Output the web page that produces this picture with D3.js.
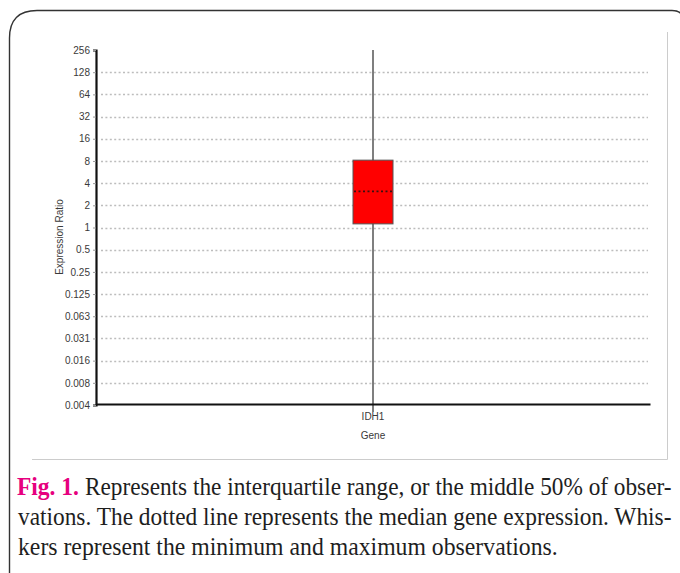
<!DOCTYPE html>
<html>
<head>
<meta charset="utf-8">
<script src="https://cdn.jsdelivr.net/npm/d3@7"></script>
<style>
  body { margin: 0; background: #fff; }
  svg { display: block; }
</style>
</head>
<body>
<script>
// chart data
var genes = ["IDH1"];
var tickExps = [-8, -7, -6, -5, -4, -3, -2, -1, 0, 1, 2, 3, 4, 5, 6, 7, 8];
var tickLabels = ["0.004", "0.008", "0.016", "0.031", "0.063", "0.125", "0.25", "0.5",
                  "1", "2", "4", "8", "16", "32", "64", "128", "256"];
var boxMin = [0.0039];
var boxQ1 = [1.12];
var boxMedian = [3.1];
var boxQ3 = [8.2];
var boxMax = [256];

var captionLines = [
  "Represents the interquartile range, or the middle 50% of obser-",
  "vations. The dotted line represents the median gene expression. Whis-",
  "kers represent the minimum and maximum observations."
];

var w = 680, h = 573;

var svg = d3.select("body").append("svg")
    .attr("width", w)
    .attr("height", h);

// outer rounded frame of the figure box
svg.append("path")
    .attr("d", "M9.5,600 L9.5,38 Q9.5,10.5 37,10.5 L672,10.5 Q679,10.5 681,14")
    .attr("fill", "none")
    .attr("stroke", "#333")
    .attr("stroke-width", 1.4);

// light frame around the chart image
svg.append("path")
    .attr("d", "M32,459.5 L667.5,459.5 L667.5,32")
    .attr("fill", "none")
    .attr("stroke", "#ccc")
    .attr("stroke-width", 1);

// scales
var y = d3.scaleLog().base(2)
    .domain([Math.pow(2, -8), Math.pow(2, 8)])
    .range([405, 50]);

var x = d3.scaleBand()
    .domain(genes)
    .range([96, 650]);

var tickVals = tickExps.map(function(e){ return Math.pow(2, e); });

// dotted gridlines
svg.append("g").attr("class", "grid")
    .selectAll("line")
    .data(tickVals.slice(1, tickVals.length - 1))
    .enter()
    .append("line")
    .attr("x1", 101)
    .attr("x2", 648)
    .attr("y1", function(d){ return Math.round(y(d)) + 0.5; })
    .attr("y2", function(d){ return Math.round(y(d)) + 0.5; })
    .attr("stroke", "#bdbdbd")
    .attr("stroke-width", 1.6)
    .attr("stroke-dasharray", "2,2.4");

// whiskers
svg.selectAll(".whisker")
    .data(genes)
    .enter()
    .append("line")
    .attr("class", "whisker")
    .attr("x1", function(d){ return x(d) + x.bandwidth() / 2; })
    .attr("x2", function(d){ return x(d) + x.bandwidth() / 2; })
    .attr("y1", function(d, i){ return y(boxMax[i]); })
    .attr("y2", function(d, i){ return y(boxMin[i]) + 7; })
    .attr("stroke", "#555")
    .attr("stroke-width", 1.5);

// boxes
var boxW = 40;
svg.selectAll(".box")
    .data(genes)
    .enter()
    .append("rect")
    .attr("class", "box")
    .attr("x", function(d){ return x(d) + x.bandwidth() / 2 - boxW / 2; })
    .attr("y", function(d, i){ return y(boxQ3[i]); })
    .attr("width", boxW)
    .attr("height", function(d, i){ return y(boxQ1[i]) - y(boxQ3[i]); })
    .attr("fill", "#ff0000")
    .attr("stroke", "#555")
    .attr("stroke-width", 1);

// median (dotted)
svg.selectAll(".median")
    .data(genes)
    .enter()
    .append("line")
    .attr("class", "median")
    .attr("x1", function(d){ return x(d) + x.bandwidth() / 2 - boxW / 2 + 1; })
    .attr("x2", function(d){ return x(d) + x.bandwidth() / 2 + boxW / 2 - 1; })
    .attr("y1", function(d, i){ return y(boxMedian[i]); })
    .attr("y2", function(d, i){ return y(boxMedian[i]); })
    .attr("stroke", "#3a1010")
    .attr("stroke-width", 1.8)
    .attr("stroke-dasharray", "2,2.5");

// y axis
var yAxis = d3.axisLeft(y)
    .tickValues(tickVals)
    .tickSize(3)
    .tickPadding(3)
    .tickFormat(function(d, i){ return tickLabels[i]; });

var gy = svg.append("g")
    .attr("transform", "translate(96,0)")
    .call(yAxis);
gy.select(".domain").attr("stroke", "#111").attr("stroke-width", 2.2);
gy.selectAll(".tick line").attr("stroke", "#999");
gy.selectAll(".tick text")
    .attr("fill", "#3a3a3a")
    .style("font-family", "Liberation Sans, Arial, sans-serif")
    .style("font-size", "10px");

// x axis
var xAxis = d3.axisBottom(x).tickSize(0).tickPadding(9);
var gx = svg.append("g")
    .attr("transform", "translate(0,404)")
    .call(xAxis);
gx.select(".domain").attr("stroke", "#111").attr("stroke-width", 2.2);
gx.selectAll(".tick text")
    .attr("fill", "#3a3a3a")
    .style("font-family", "Liberation Sans, Arial, sans-serif")
    .style("font-size", "10px");

// axis titles
svg.append("text")
    .attr("x", x(genes[0]) + x.bandwidth() / 2)
    .attr("y", 439)
    .attr("text-anchor", "middle")
    .attr("fill", "#3a3a3a")
    .style("font-family", "Liberation Sans, Arial, sans-serif")
    .style("font-size", "10px")
    .text("Gene");

svg.append("text")
    .attr("transform", "translate(63,237) rotate(-90)")
    .attr("text-anchor", "middle")
    .attr("fill", "#3a3a3a")
    .style("font-family", "Liberation Sans, Arial, sans-serif")
    .style("font-size", "10px")
    .text("Expression Ratio");

// caption: each line squeezed horizontally to its justified width
var cap = svg.append("g")
    .style("font-family", "Liberation Serif, Times New Roman, serif")
    .style("font-size", "25.5px")
    .attr("fill", "#1e1e1e");

function fitText(sel, x0, x1, yb) {
    var natural = sel.node().getComputedTextLength();
    var sx = (x1 - x0) / natural;
    sel.attr("x", 0).attr("y", 0)
        .attr("transform", "translate(" + x0 + "," + yb + ") scale(" + sx + ",1)");
}

var fig = cap.append("text")
    .attr("fill", "#e6007e")
    .style("font-weight", "bold")
    .text("Fig. 1.");
fitText(fig, 17, 79, 495);

var lineStarts = [85, 18, 18];
var lineEnds = [672, 672, 558];
var baselines = [495, 525, 555];
cap.selectAll(".capline")
    .data(captionLines)
    .enter()
    .append("text")
    .attr("class", "capline")
    .text(function(d){ return d; })
    .each(function(d, i){
        fitText(d3.select(this), lineStarts[i], lineEnds[i], baselines[i]);
    });
</script>
</body>
</html>
